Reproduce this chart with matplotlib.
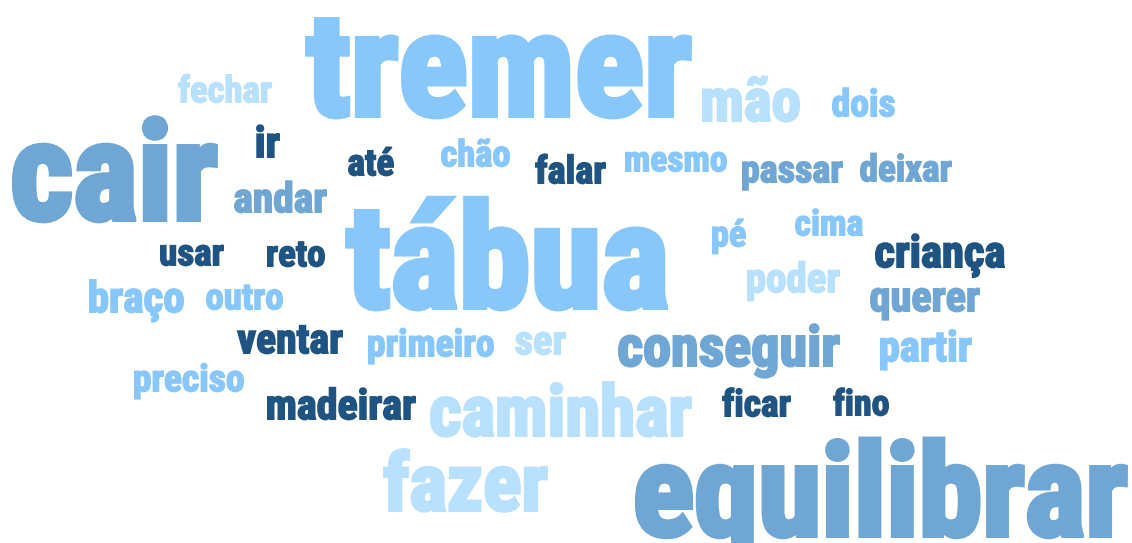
import os
import matplotlib
matplotlib.use('Agg')
import matplotlib.pyplot as plt
import matplotlib.patheffects as pe
from matplotlib import font_manager as fm
from matplotlib.font_manager import FontProperties
from matplotlib.textpath import TextPath

# ---------------- data ----------------
words = ['tábua', 'tremer', 'cair', 'equilibrar', 'caminhar', 'fazer',
         'conseguir', 'mão', 'criança', 'fechar', 'dois', 'ir', 'até',
         'chão', 'falar', 'mesmo', 'passar', 'deixar', 'andar', 'usar',
         'reto', 'pé', 'cima', 'poder', 'querer', 'braço', 'outro',
         'ventar', 'primeiro', 'ser', 'partir', 'preciso', 'madeirar',
         'ficar', 'fino']
weights = [100, 90, 85, 80, 45, 55, 36, 38, 30, 25, 24, 26, 24, 24, 26,
           23, 25, 25, 28, 22, 24, 23, 24, 27, 25, 28, 24, 27, 24, 24,
           26, 24, 27, 23, 24]
tones = ['light', 'light', 'medium', 'medium', 'pale', 'pale', 'medium',
         'pale', 'dark', 'pale', 'light', 'dark', 'dark', 'light', 'dark',
         'light', 'medium', 'medium', 'medium', 'dark', 'dark', 'light',
         'light', 'pale', 'medium', 'light', 'light', 'dark', 'light',
         'pale', 'light', 'light', 'dark', 'dark', 'dark']
palette = {'dark': '#1F5482', 'medium': '#6FA6D3',
           'light': '#87C7FC', 'pale': '#B8E0FF'}

# ---------------- layout (pixels: left, right, baseline) ----------------
layout = {
    'tremer':     (305, 692, 118),
    'cair':       (12, 218, 222),
    'tábua':      (345, 668, 310),
    'equilibrar': (635, 1128, 538),
    'caminhar':   (430, 692, 437),
    'fazer':      (383, 548, 512),
    'conseguir':  (618, 840, 367),
    'mão':        (702, 800, 122),
    'criança':    (875, 1005, 268),
    'fechar':     (178, 272, 103),
    'dois':       (832, 895, 117),
    'ir':         (256, 280, 158),
    'até':        (348, 394, 176),
    'chão':       (441, 510, 167),
    'falar':      (535, 606, 184),
    'mesmo':      (625, 727, 172),
    'passar':     (742, 843, 183),
    'deixar':     (860, 952, 182),
    'andar':      (234, 327, 213),
    'usar':       (160, 224, 266),
    'reto':       (267, 325, 267),
    'pé':         (712, 746, 247),
    'cima':       (795, 863, 236),
    'poder':      (747, 840, 293),
    'querer':     (870, 980, 312),
    'braço':      (89, 184, 313),
    'outro':      (206, 283, 310),
    'ventar':     (237, 343, 354),
    'primeiro':   (368, 494, 357),
    'ser':        (515, 566, 355),
    'partir':     (880, 972, 362),
    'preciso':    (134, 244, 392),
    'madeirar':   (267, 416, 420),
    'ficar':      (722, 791, 417),
    'fino':       (833, 889, 416),
}

W, H, DPI = 1132, 543, 100
BOLDEN = 0.04   # extra stroke, as a fraction of the em, to mimic a heavy face


def pick_font():
    prefs = ['NotoSans-ExtraCondensedBlack', 'NotoSans-ExtraCondensedExtraBold',
             'NotoSans-CondensedBlack', 'NotoSans-CondensedExtraBold',
             'RobotoCondensed-Black', 'RobotoCondensed-ExtraBold',
             'NotoSans-ExtraCondensedBold', 'NotoSans-CondensedBold',
             'RobotoCondensed-Bold', 'LiberationSansNarrow-Bold',
             'OpenSans-CondensedBold', 'DejaVuSansCondensed-Bold']
    files = [f.fname for f in fm.fontManager.ttflist]
    for key in prefs:
        for p in files:
            b = os.path.basename(p)
            if b.startswith(key + '.'):
                return FontProperties(fname=p)
    return FontProperties(family='DejaVu Sans', weight='bold')


fp = pick_font()

fig = plt.figure(figsize=(W / DPI, H / DPI), dpi=DPI)
fig.patch.set_facecolor('white')
ax = fig.add_axes([0, 0, 1, 1])
ax.set_xlim(0, W)
ax.set_ylim(H, 0)
ax.axis('off')

for word, tone in zip(words, tones):
    left, right, base = layout[word]
    tp = TextPath((0, 0), word, size=100, prop=fp)
    bb = tp.get_extents()
    em_px = (right - left) / (bb.width / 100.0 + BOLDEN)
    lw_px = BOLDEN * em_px
    x0 = left + lw_px / 2 - bb.x0 / 100.0 * em_px
    col = palette[tone]
    ax.text(x0, base - lw_px / 2, word, fontproperties=fp,
            fontsize=em_px * 72.0 / DPI, color=col, ha='left', va='baseline',
            path_effects=[pe.Stroke(linewidth=lw_px * 72.0 / DPI,
                                    foreground=col, joinstyle='miter'),
                          pe.Normal()])

fig.savefig('out.png', dpi=DPI, facecolor='white')
